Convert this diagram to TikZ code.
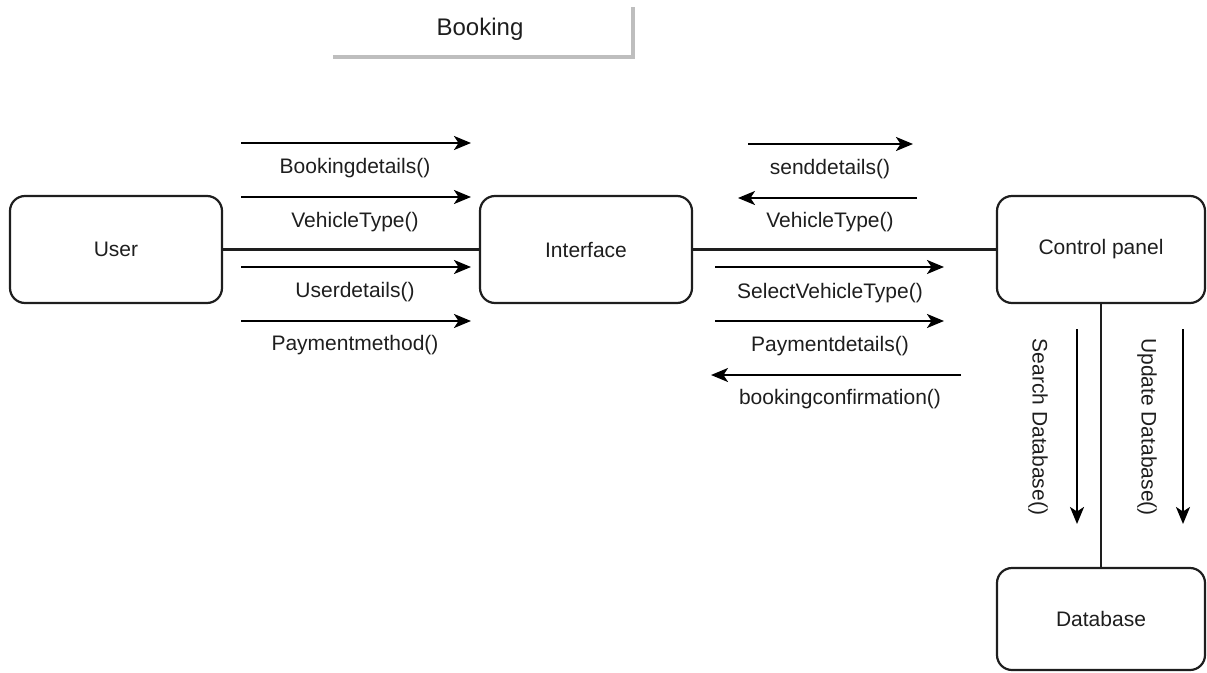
\documentclass[tikz,border=0pt]{standalone}
\usepackage{fontspec}
\setmainfont{Liberation Sans}
\usetikzlibrary{arrows.meta}
\definecolor{ink}{RGB}{30,30,30}
\definecolor{shadowgray}{RGB}{190,190,190}
\begin{document}
\begin{tikzpicture}[x=1pt,y=-1pt,
  every node/.style={font=\fontsize{21}{25}\selectfont, text=ink},
  block/.style={draw=ink, line width=2.2pt, rounded corners=15pt, inner sep=0pt},
  link/.style={draw=ink, line width=2.2pt},
  msg/.style={draw=black, line width=2.2pt, -{Stealth[length=17pt,width=14pt,inset=4.5pt]}},
  lbl/.style={inner sep=1pt}]
\useasboundingbox (0,0) rectangle (1207,672);

% title with drop shadow edge
\node (title) [minimum width=300pt, minimum height=50pt, inner sep=0pt] at (483,32) {};
\node (titletext) [font=\fontsize{24}{28}\selectfont] at (480,29) {Booking};
\draw[shadowgray, line width=4.5pt] (title.south west) -- (title.south east) -- (title.north east);

% participants
\node (user)  [block, minimum width=212pt, minimum height=107pt] at (116,249.5) {User};
\node (iface) [block, minimum width=212pt, minimum height=107pt] at (586,249.5) {Interface};
\node (ctrl)  [block, minimum width=208pt, minimum height=107pt] at (1101,249.5) {Control panel};
\node (db)    [block, minimum width=208pt, minimum height=102pt] at (1101,619) {Database};

% links
\draw[link] (user.east) -- (iface.west);
\draw[link] (iface.east) -- (ctrl.west);
\draw[link] (ctrl.south) -- (db.north);

% User -> Interface messages
\coordinate (a1s) at (241,143); \coordinate (a1e) at (471,143);
\coordinate (a2s) at (241,197); \coordinate (a2e) at (471,197);
\coordinate (a3s) at (241,267); \coordinate (a3e) at (471,267);
\coordinate (a4s) at (241,321); \coordinate (a4e) at (471,321);
\draw[msg] (a1s) -- (a1e);
\draw[msg] (a2s) -- (a2e);
\draw[msg] (a3s) -- (a3e);
\draw[msg] (a4s) -- (a4e);
\node (l1) [lbl] at (355,168) {Bookingdetails()};
\node (l2) [lbl] at (355,222) {VehicleType()};
\node (l3) [lbl] at (355,292) {Userdetails()};
\node (l4) [lbl] at (355,345) {Paymentmethod()};

% Interface <-> Control panel messages
\coordinate (b1s) at (748,144); \coordinate (b1e) at (913,144);
\coordinate (b2s) at (917,198); \coordinate (b2e) at (738,198);
\coordinate (b3s) at (715,267); \coordinate (b3e) at (944,267);
\coordinate (b4s) at (715,321); \coordinate (b4e) at (944,321);
\coordinate (b5s) at (961,375); \coordinate (b5e) at (711,375);
\draw[msg] (b1s) -- (b1e);
\draw[msg] (b2s) -- (b2e);
\draw[msg] (b3s) -- (b3e);
\draw[msg] (b4s) -- (b4e);
\draw[msg] (b5s) -- (b5e);
\node (m1) [lbl] at (830,169) {senddetails()};
\node (m2) [lbl] at (830,222) {VehicleType()};
\node (m3) [lbl] at (830,293) {SelectVehicleType()};
\node (m4) [lbl] at (830,346) {Paymentdetails()};
\node (m5) [lbl] at (840,399) {bookingconfirmation()};

% Control panel -> Database messages
\coordinate (c1s) at (1077,329); \coordinate (c1e) at (1077,524);
\coordinate (c2s) at (1183,329); \coordinate (c2e) at (1183,524);
\draw[msg] (c1s) -- (c1e);
\draw[msg] (c2s) -- (c2e);
\node (v1) [lbl, rotate=-90] at (1038,427) {Search Database()};
\node (v2) [lbl, rotate=-90] at (1147,427) {Update Database()};
\end{tikzpicture}
\end{document}
